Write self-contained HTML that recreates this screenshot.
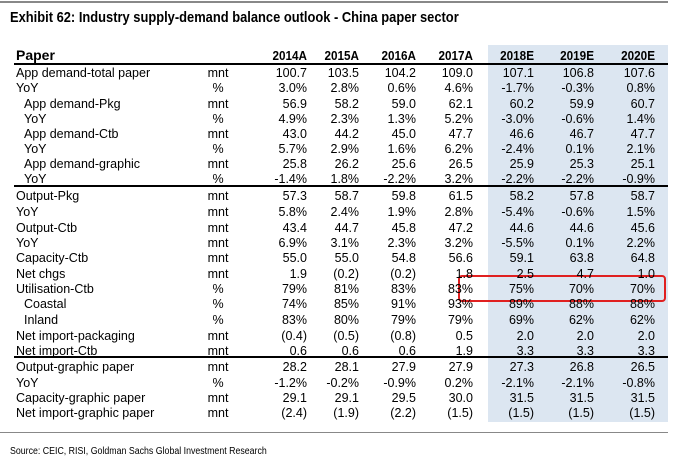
<!DOCTYPE html>
<html><head><meta charset="utf-8"><style>
body{margin:0;width:673px;height:463px;background:#fff;position:relative;overflow:hidden;font-family:"Liberation Sans",sans-serif;color:#000}
.a{position:absolute;white-space:nowrap;line-height:15px;font-size:12.5px}
.r{text-align:right}
</style></head><body>
<div style="position:absolute;left:0;top:1px;width:668px;height:2px;background:#888"></div>
<div class="a" style="left:10px;top:10px;font-size:15px;font-weight:bold;transform:scaleX(0.86);transform-origin:left">Exhibit 62: Industry supply-demand balance outlook - China paper sector</div>
<div style="position:absolute;left:488px;top:45px;width:180px;height:377px;background:#dce6f1"></div>
<div style="position:absolute;left:14px;top:63px;width:654px;height:2px;background:#000"></div>
<div style="position:absolute;left:14px;top:185px;width:654px;height:2px;background:#000"></div>
<div style="position:absolute;left:14px;top:356px;width:654px;height:2px;background:#000"></div>
<div style="position:absolute;left:0;top:432px;width:668px;height:1px;background:#888"></div>
<div style="position:absolute;left:458px;top:275px;width:204px;height:23px;border:2.5px solid #e02020;border-radius:4px"></div>
<div class="a" style="left:10px;top:444px;font-size:10px;transform:scaleX(0.88);transform-origin:left">Source: CEIC, RISI, Goldman Sachs Global Investment Research</div>
<div id="t"></div>
<script>
const headers=["Paper","2014A","2015A","2016A","2017A","2018E","2019E","2020E"];
const labels=["App demand-total paper","YoY","App demand-Pkg","YoY","App demand-Ctb","YoY","App demand-graphic","YoY","Output-Pkg","YoY","Output-Ctb","YoY","Capacity-Ctb","Net chgs","Utilisation-Ctb","Coastal","Inland","Net import-packaging","Net import-Ctb","Output-graphic paper","YoY","Capacity-graphic paper","Net import-graphic paper"];
const indents=[0,0,1,1,1,1,1,1,0,0,0,0,0,0,0,1,1,0,0,0,0,0,0];
const units=["mnt","%","mnt","%","mnt","%","mnt","%","mnt","mnt","mnt","mnt","mnt","mnt","%","%","%","mnt","mnt","mnt","%","mnt","mnt"];
const values=[
["100.7","103.5","104.2","109.0","107.1","106.8","107.6"],
["3.0%","2.8%","0.6%","4.6%","-1.7%","-0.3%","0.8%"],
["56.9","58.2","59.0","62.1","60.2","59.9","60.7"],
["4.9%","2.3%","1.3%","5.2%","-3.0%","-0.6%","1.4%"],
["43.0","44.2","45.0","47.7","46.6","46.7","47.7"],
["5.7%","2.9%","1.6%","6.2%","-2.4%","0.1%","2.1%"],
["25.8","26.2","25.6","26.5","25.9","25.3","25.1"],
["-1.4%","1.8%","-2.2%","3.2%","-2.2%","-2.2%","-0.9%"],
["57.3","58.7","59.8","61.5","58.2","57.8","58.7"],
["5.8%","2.4%","1.9%","2.8%","-5.4%","-0.6%","1.5%"],
["43.4","44.7","45.8","47.2","44.6","44.6","45.6"],
["6.9%","3.1%","2.3%","3.2%","-5.5%","0.1%","2.2%"],
["55.0","55.0","54.8","56.6","59.1","63.8","64.8"],
["1.9","(0.2)","(0.2)","1.8","2.5","4.7","1.0"],
["79%","81%","83%","83%","75%","70%","70%"],
["74%","85%","91%","93%","89%","88%","88%"],
["83%","80%","79%","79%","69%","62%","62%"],
["(0.4)","(0.5)","(0.8)","0.5","2.0","2.0","2.0"],
["0.6","0.6","0.6","1.9","3.3","3.3","3.3"],
["28.2","28.1","27.9","27.9","27.3","26.8","26.5"],
["-1.2%","-0.2%","-0.9%","0.2%","-2.1%","-2.1%","-0.8%"],
["29.1","29.1","29.5","30.0","31.5","31.5","31.5"],
["(2.4)","(1.9)","(2.2)","(1.5)","(1.5)","(1.5)","(1.5)"]];
const rowY=[66,81,97,112,127,142,157,172,189,205,221,236,251,267,282,297,313,329,344,360,376,391,406];
const colR=[307,359,416,473,534,594,655];
const t=document.getElementById('t');
function add(txt,x,y,cls,extra){const d=document.createElement('div');d.className='a '+cls;d.textContent=txt;d.style.top=y+'px';Object.assign(d.style,extra);t.appendChild(d);return d;}
let h=add(headers[0],0,48,'',{left:'16px',fontWeight:'bold',fontSize:'14px'});


for(let c=0;c<7;c++){const d=add(headers[c+1],0,48,'r',{left:(colR[c]-60)+'px',width:'60px',fontWeight:'bold',fontSize:'13px',transform:'scaleX(0.9)',transformOrigin:'right'});

}
for(let i=0;i<labels.length;i++){
const y=rowY[i];
const l=add(labels[i],0,y,'',{left:(16+indents[i]*8)+'px'});


const u=add(units[i],0,y,'',{left:'188px',width:'60px',textAlign:'center'});


for(let c=0;c<7;c++){const v=add(values[i][c],0,y,'r',{left:(colR[c]-60)+'px',width:'60px'});

}
}
</script>
</body></html>
